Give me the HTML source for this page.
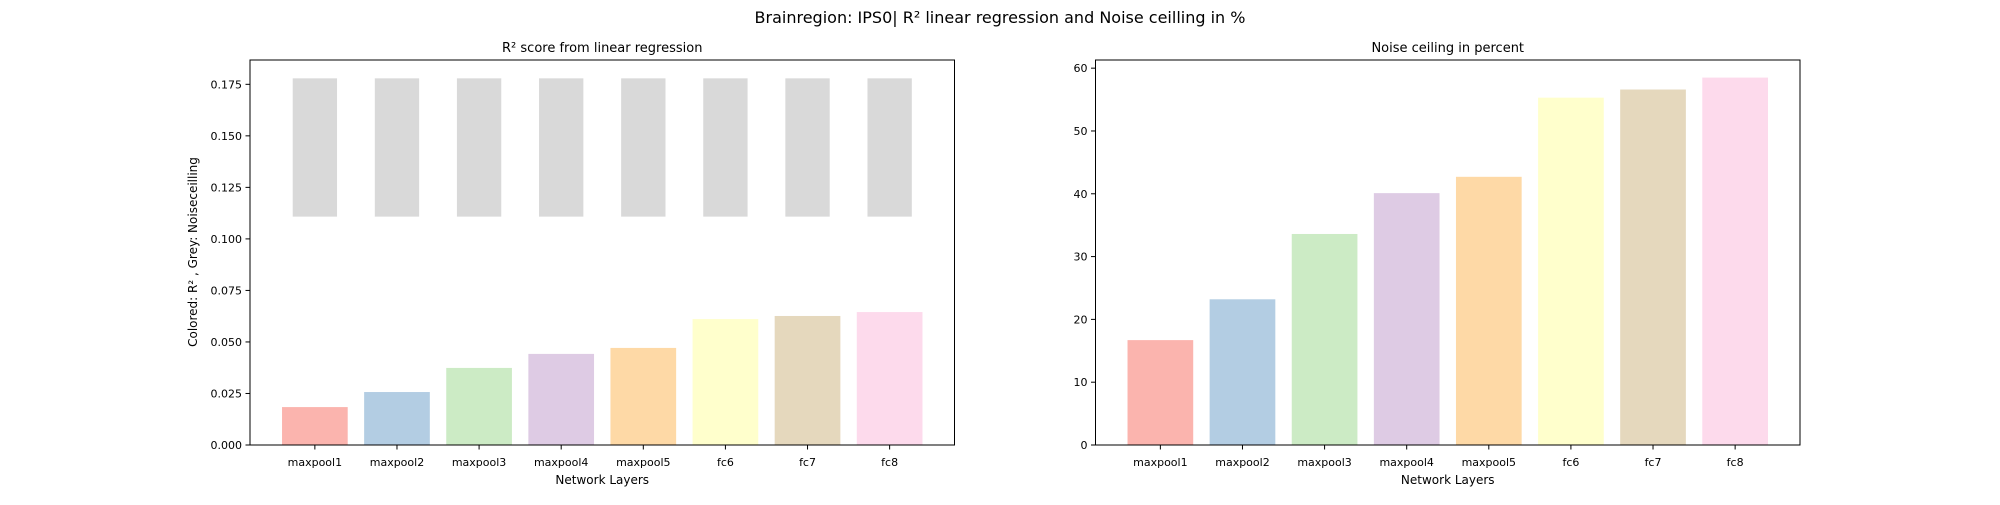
<!DOCTYPE html>
<html><head><meta charset="utf-8"><style>
body{margin:0;background:#fff}
svg text{font-family:"DejaVu Sans","Liberation Sans",sans-serif;fill:#000}
</style></head><body>
<svg id="fig" width="2000" height="500" xmlns="http://www.w3.org/2000/svg">
<rect width="2000" height="500" fill="#fff"/>
<text x="1000" y="23" font-size="16" text-anchor="middle">Brainregion: IPS0| R² linear regression and Noise ceilling in %</text>
<g id="left"></g>
<g id="right"></g>
</svg>
<script>
const categories = ["maxpool1","maxpool2","maxpool3","maxpool4","maxpool5","fc6","fc7","fc8"];
const r2Values = [0.0184,0.0257,0.0374,0.0442,0.0471,0.0611,0.0626,0.0645];
const ceilingBottom = [0.1108,0.1108,0.1108,0.1108,0.1108,0.1108,0.1108,0.1108];
const ceilingTop = [0.1779,0.1779,0.1779,0.1779,0.1779,0.1779,0.1779,0.1779];
const noisePercent = [16.7,23.2,33.6,40.1,42.7,55.3,56.6,58.5];
const leftTicks = ["0.000","0.025","0.050","0.075","0.100","0.125","0.150","0.175"];
const rightTicks = ["0","10","20","30","40","50","60"];
const colors = ["#fbb4ae","#b3cde3","#ccebc5","#decbe4","#fed9a6","#ffffcc","#e5d8bd","#fddaec"];
const NS="http://www.w3.org/2000/svg";
function mk(parent,tag,attrs,text){const e=document.createElementNS(NS,tag);for(const k in attrs)e.setAttribute(k,attrs[k]);if(text!==undefined)e.textContent=text;parent.appendChild(e);return e;}
function chart(g,x0,x1,ymax,ticks,title){
  const y0=445,y1=60;
  const xs=i=>x0+(i+0.79)/8.58*(x1-x0);
  const ys=v=>y0-v/ymax*(y0-y1);
  return {xs,ys,draw(){
    const ax=mk(g,"rect",{x:x0,y:y1,width:x1-x0,height:y0-y1,fill:"none",stroke:"#000","stroke-width":1});
    
    
    ticks.forEach(t=>{const y=ys(parseFloat(t));
      const l=mk(g,"line",{x1:x0-4.5,x2:x0,y1:y,y2:y,stroke:"#000"});
      
      
      const tx=mk(g,"text",{x:x0-8,y:y+4,"font-size":11,"text-anchor":"end"},t);
      
      });
    categories.forEach((c,i)=>{const x=xs(i);
      const l=mk(g,"line",{x1:x,x2:x,y1:y0,y2:y0+4.5,stroke:"#000"});
      
      
      const tx=mk(g,"text",{x:x,y:466,"font-size":11,"text-anchor":"middle"},c);
      
      });
    const tt=mk(g,"text",{x:(x0+x1)/2,y:52,"font-size":13,"text-anchor":"middle"},title);
    
    
    const xl=mk(g,"text",{x:(x0+x1)/2,y:484,"font-size":12,"text-anchor":"middle"},"Network Layers");
    
    
  }};
}
const L=document.getElementById("left"),R=document.getElementById("right");
const cl=chart(L,250,954.5,0.1868,leftTicks,"R² score from linear regression");
const pw=(954.5-250)/8.58;
categories.forEach((c,i)=>{
  const b=mk(L,"rect",{x:cl.xs(i)-0.27*pw,width:0.54*pw,y:cl.ys(ceilingTop[i]),height:cl.ys(ceilingBottom[i])-cl.ys(ceilingTop[i]),fill:"#d9d9d9"});
  
  
  const r=mk(L,"rect",{x:cl.xs(i)-0.4*pw,width:0.8*pw,y:cl.ys(r2Values[i]),height:cl.ys(0)-cl.ys(r2Values[i]),fill:colors[i]});
  
  
});
cl.draw();
const yl=mk(L,"text",{x:0,y:0,"font-size":12,"text-anchor":"middle",transform:"translate(197,252) rotate(-90)"},"Colored: R² , Grey: Noiseceilling");


const cr=chart(R,1095.5,1800,61.3,rightTicks,"Noise ceiling in percent");
categories.forEach((c,i)=>{
  const r=mk(R,"rect",{x:cr.xs(i)-0.4*pw,width:0.8*pw,y:cr.ys(noisePercent[i]),height:cr.ys(0)-cr.ys(noisePercent[i]),fill:colors[i]});
  
  
});
cr.draw();
</script>
</body></html>
